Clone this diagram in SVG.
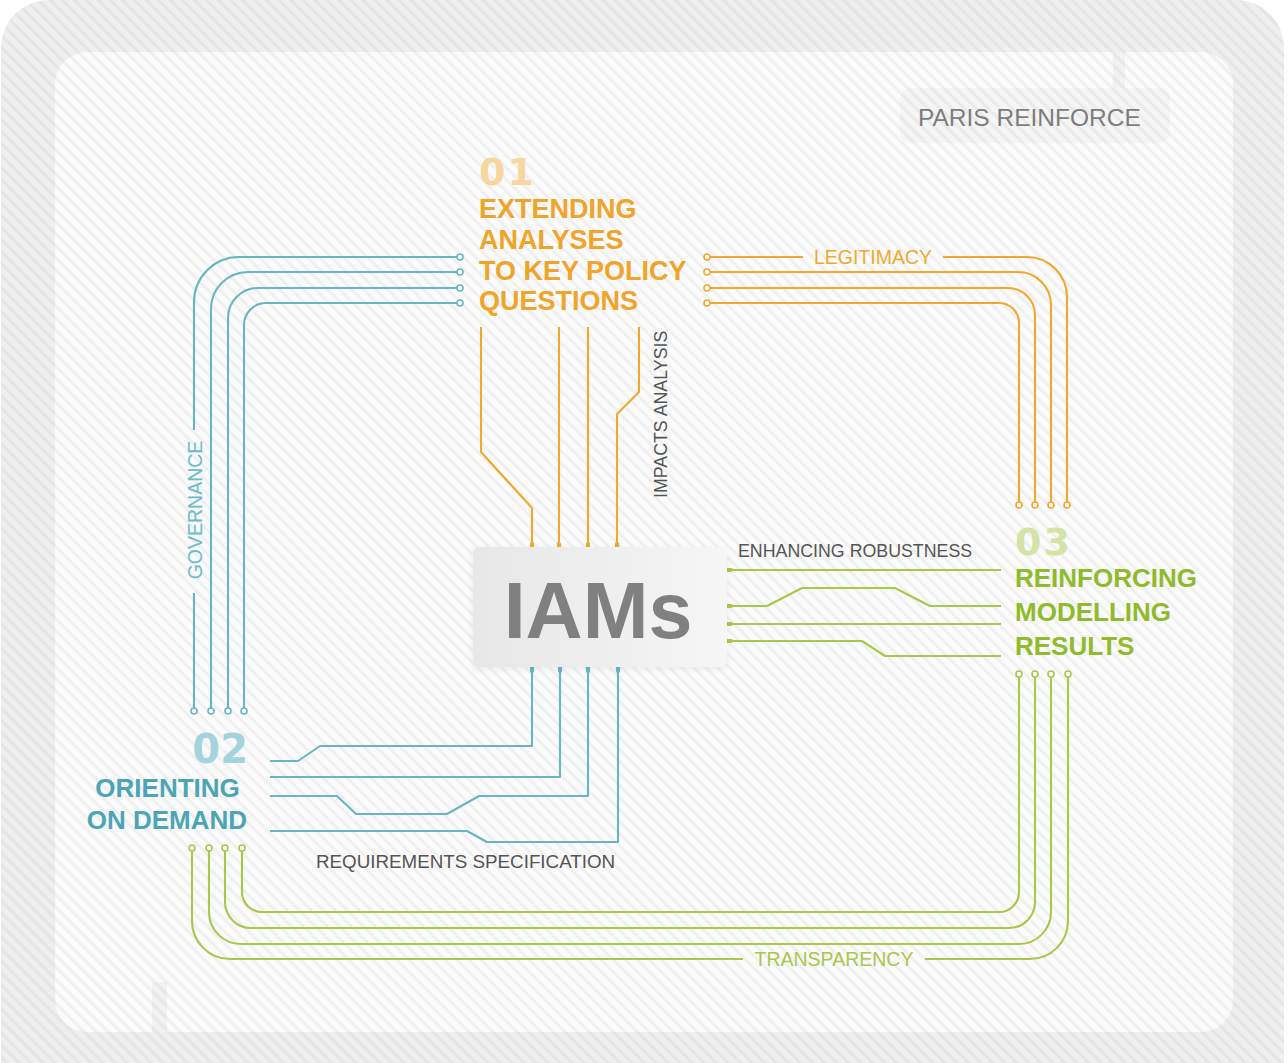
<svg xmlns="http://www.w3.org/2000/svg" width="1288" height="1063" viewBox="0 0 1288 1063">
<defs>
<pattern id="stripes" width="8.5" height="8.5" patternUnits="userSpaceOnUse" patternTransform="rotate(-45)">
<rect x="0" y="0" width="3" height="8.5" fill="#000" fill-opacity="0.042"/>
</pattern>
<linearGradient id="iamsg" x1="0" y1="0" x2="1" y2="0">
<stop offset="0" stop-color="#e7e7e7"/><stop offset="1" stop-color="#f6f6f6"/>
</linearGradient>
<filter id="sh" x="-10%" y="-10%" width="120%" height="130%">
<feDropShadow dx="0" dy="2" stdDeviation="3" flood-color="#000" flood-opacity="0.06"/>
</filter>
<style>
.ln{fill:none;stroke-width:2.1;stroke-linejoin:round;stroke-linecap:butt}
.o{stroke:#f0a92e}
.b{stroke:#68b6c4}
.g{stroke:#a8c84a}
.dot{fill:#fafafa;stroke-width:1.6}
.pin{fill:none;stroke-width:4.2;stroke-linecap:round}
.title{font-family:"Liberation Sans",Arial,sans-serif;font-weight:bold;font-size:26.5px}
.num{font-family:"DejaVu Sans",sans-serif;font-weight:bold;font-size:38px}
.lbl{font-family:"Liberation Sans",Arial,sans-serif;font-size:17.8px;fill:#555555}
.clbl{font-family:"Liberation Sans",Arial,sans-serif;font-size:19.5px}
</style>
</defs>

<g id="background">
<rect width="1288" height="1063" fill="#ffffff"/>
<rect x="1" y="0" width="1283" height="1120" rx="48" fill="#efefef"/>
<rect x="55" y="52" width="1178" height="980" rx="32" fill="#fbfbfb"/>
<rect x="1113" y="52" width="12" height="36" fill="#f2f2f2"/>
<rect x="152" y="982" width="15" height="50" fill="#f2f2f2"/>
<rect x="1" y="0" width="1283" height="1120" rx="48" fill="url(#stripes)"/>
</g>

<g id="connectors">
<g id="governance">
<path class="ln b" d="M457,257 H239 A45,45 0 0 0 194,302 V430 M194,593 V708"/>
<path class="ln b" d="M457,272 H248 A37,37 0 0 0 211,309 V708"/>
<path class="ln b" d="M457,288 H258 A30,30 0 0 0 228,318 V708"/>
<path class="ln b" d="M457,303 H266 A22,22 0 0 0 244,325 V708"/>
<circle class="dot b" cx="460" cy="257" r="3"/>
<circle class="dot b" cx="460" cy="272" r="3"/>
<circle class="dot b" cx="460" cy="288" r="3"/>
<circle class="dot b" cx="460" cy="303" r="3"/>
<circle class="dot b" cx="194" cy="711" r="3"/>
<circle class="dot b" cx="211" cy="711" r="3"/>
<circle class="dot b" cx="228" cy="711" r="3"/>
<circle class="dot b" cx="244" cy="711" r="3"/>
<text class="clbl" fill="#6cbccb" transform="translate(202,510) rotate(-90)" text-anchor="middle">GOVERNANCE</text>
</g>
<g id="legitimacy">
<path class="ln o" d="M710,257 H803 M943,257 H1027 A40,40 0 0 1 1067,297 V502"/>
<path class="ln o" d="M710,272 H1018 A33,33 0 0 1 1051,305 V502"/>
<path class="ln o" d="M710,288 H1008 A27,27 0 0 1 1035,315 V502"/>
<path class="ln o" d="M710,303 H999 A20,20 0 0 1 1019,323 V502"/>
<circle class="dot o" cx="707" cy="257" r="3"/>
<circle class="dot o" cx="707" cy="272" r="3"/>
<circle class="dot o" cx="707" cy="288" r="3"/>
<circle class="dot o" cx="707" cy="303" r="3"/>
<circle class="dot o" cx="1019" cy="505" r="3"/>
<circle class="dot o" cx="1035" cy="505" r="3"/>
<circle class="dot o" cx="1051" cy="505" r="3"/>
<circle class="dot o" cx="1067" cy="505" r="3"/>
<text class="clbl" fill="#f0a92e" x="873" y="264" text-anchor="middle">LEGITIMACY</text>
</g>
<g id="transparency">
<path class="ln g" d="M192,851 V921 A38,38 0 0 0 230,959 H743 M925,959 H1030 A38,38 0 0 0 1068,921 V677"/>
<path class="ln g" d="M209,851 V912 A32,32 0 0 0 241,944 H1019 A32,32 0 0 0 1051,912 V677"/>
<path class="ln g" d="M225,851 V902 A26,26 0 0 0 251,928 H1009 A26,26 0 0 0 1035,902 V677"/>
<path class="ln g" d="M242,851 V892 A20,20 0 0 0 262,912 H999 A20,20 0 0 0 1019,892 V677"/>
<circle class="dot g" cx="192" cy="848" r="3"/>
<circle class="dot g" cx="209" cy="848" r="3"/>
<circle class="dot g" cx="225" cy="848" r="3"/>
<circle class="dot g" cx="242" cy="848" r="3"/>
<circle class="dot g" cx="1019" cy="674" r="3"/>
<circle class="dot g" cx="1035" cy="674" r="3"/>
<circle class="dot g" cx="1051" cy="674" r="3"/>
<circle class="dot g" cx="1068" cy="674" r="3"/>
<text class="clbl" fill="#a8c84a" x="834" y="966" text-anchor="middle">TRANSPARENCY</text>
</g>
<g id="impacts-analysis">
<path class="ln o" d="M481,327 V452 L532,508 V545"/>
<path class="ln o" d="M559,327 V545"/>
<path class="ln o" d="M588,327 V545"/>
<path class="ln o" d="M639,327 V392 L617,414 V545"/>
<path class="pin o" d="M532,544 V551 M559,544 V551 M588,544 V551 M617,544 V551"/>
<text class="lbl" transform="translate(667,498) rotate(-90)">IMPACTS ANALYSIS</text>
</g>
<g id="requirements-specification">
<path class="ln b" d="M532,670 V746 H320 L298,761 H270"/>
<path class="ln b" d="M560,670 V777 H270"/>
<path class="ln b" d="M588,670 V796 H479 L447,814 H356 L337,796 H270"/>
<path class="ln b" d="M618,670 V842 H487 L467,831 H270"/>
<path class="pin b" d="M532,664 V671 M560,664 V671 M588,664 V671 M618,664 V671"/>
<text class="lbl" x="316" y="868" style="font-size:18.8px">REQUIREMENTS SPECIFICATION</text>
</g>
<g id="enhancing-robustness">
<path class="ln g" d="M730,570 H1001"/>
<path class="ln g" d="M730,606 H767 L802,588 H895 L930,606 H1001"/>
<path class="ln g" d="M730,624 H1001"/>
<path class="ln g" d="M730,641 H862 L885,656 H1001"/>
<path class="pin g" d="M724,570 H731 M724,606 H731 M724,624 H731 M724,641 H731"/>
<text class="lbl" x="738" y="557">ENHANCING ROBUSTNESS</text>
</g>
</g>

<g id="paris-reinforce">
<rect x="900" y="88" width="270" height="55" rx="10" fill="#000" fill-opacity="0.025"/>
<text x="918" y="126" font-family="'Liberation Sans',Arial,sans-serif" font-size="24.5" fill="#7d7d7d">PARIS REINFORCE</text>
</g>

<g id="node-01">
<text class="num" x="479" y="185" fill="#f8d6a0" letter-spacing="2">01</text>
<text class="title" fill="#f0a42a" style="font-size:27px">
<tspan x="479" y="218">EXTENDING</tspan>
<tspan x="479" y="249">ANALYSES</tspan>
<tspan x="479" y="280">TO KEY POLICY</tspan>
<tspan x="479" y="310">QUESTIONS</tspan>
</text>
</g>

<g id="node-02">
<text class="num" x="248" y="763" fill="#a3d4dd" text-anchor="end" style="font-size:40px">02</text>
<text class="title" fill="#4ba5b5" text-anchor="end" style="font-size:26px">
<tspan x="247" y="797">ORIENTING</tspan>
<tspan x="247" y="829">ON DEMAND</tspan>
</text>
</g>

<g id="node-03">
<text class="num" x="1015" y="555" fill="#d4e3a6" letter-spacing="2">03</text>
<text class="title" fill="#8fbb2c" style="font-size:26px">
<tspan x="1015" y="587">REINFORCING</tspan>
<tspan x="1015" y="621">MODELLING</tspan>
<tspan x="1015" y="655">RESULTS</tspan>
</text>
</g>

<g id="node-iams">
<rect x="473" y="547" width="254" height="120" rx="6" fill="url(#iamsg)" filter="url(#sh)"/>
<text x="598" y="638" text-anchor="middle" font-family="'Liberation Sans',Arial,sans-serif" font-weight="bold" font-size="79" fill="#808080">IAMs</text>
</g>
</svg>
